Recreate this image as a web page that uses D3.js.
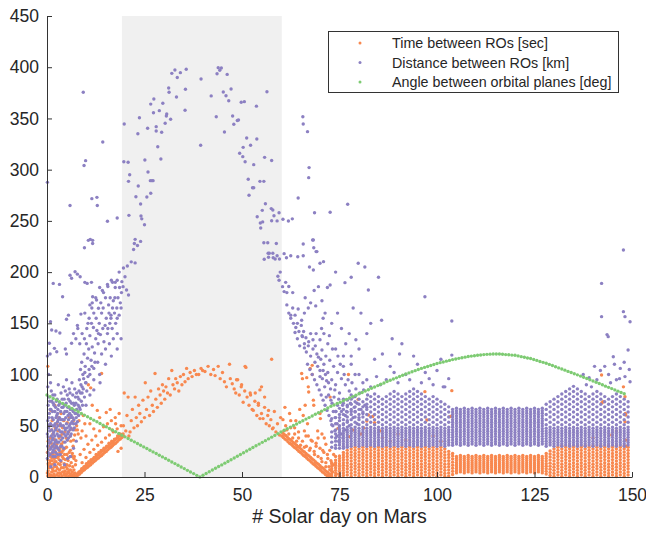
<!DOCTYPE html>
<html lang="en">
<head>
<meta charset="UTF-8">
<title># Solar day on Mars</title>
<script src="https://d3js.org/d3.v7.min.js"></script>
<style>
  body { margin: 0; background: #fff; }
  svg { display: block; font-family: "Liberation Sans", Arial, sans-serif; }
  .axis path, .axis line { stroke: #333; }
  .axis text { fill: #262626; font-size: 17.5px; font-family: "Liberation Sans", Arial, sans-serif; }
</style>
</head>
<body>
<svg id="chart" width="646" height="535"></svg>
<script>
// axes
const xTicks = [0, 25, 50, 75, 100, 125, 150];
const yTicks = [0, 50, 100, 150, 200, 250, 300, 350, 400, 450];
const xLabel = "# Solar day on Mars";
const shadeDays = [19.2, 60.2];

const seriesNames = ["Time between ROs [sec]", "Distance between ROs [km]", "Angle between orbital planes [deg]"];
const seriesColors = ["#f8884f", "#8c80c2", "#7ecb73"];

// angle between orbital planes, one sample every 0.8 day
const greenStep = 0.8;
const greenVals = [80,78.4,76.7,75.1,73.5,71.8,70.2,68.6,66.9,65.3,63.7,62,60.4,58.8,57.1,55.5,53.9,52.2,50.6,49,
  47.3,45.7,44.1,42.4,40.8,39.2,37.6,35.9,34.3,32.7,31,29.4,27.8,26.1,24.5,22.9,21.2,19.6,18,16.3,
  14.7,13.1,11.4,9.8,8.2,6.5,4.9,3.3,1.6,0,1.7,3.4,5.1,6.8,8.5,10.2,11.8,13.5,15.2,16.9,
  18.6,20.3,22,23.7,25.4,27.1,28.8,30.5,32.1,33.8,35.5,37.2,38.9,40.6,42.3,44,45.6,47.1,48.7,50.2,
  51.8,53.4,54.9,56.5,58,59.6,61.2,62.7,64.3,65.8,67.4,69,70.3,71.7,73,74.4,75.8,77.1,78.5,79.8,
  81.2,82.5,83.9,85.2,86.6,87.9,89.2,90.5,91.8,93.1,94.4,95.6,96.8,98.1,99.3,100.5,101.6,102.7,103.8,104.9,
  106,107,107.9,108.9,109.8,110.8,111.6,112.3,113.1,113.8,114.6,115.2,115.8,116.4,117,117.6,118,118.4,118.8,119.1,
  119.5,119.7,119.9,120,120,120,119.8,119.5,119.3,119,118.8,118.2,117.5,116.9,116.2,115.6,114.7,113.8,112.8,111.9,
  111,109.9,108.8,107.6,106.5,105.4,104.3,103.1,102,100.8,99.7,98.5,97.3,96.1,94.9,93.7,92.5,91.2,90,88.7,
  87.5,86.3,85,83.8,82.5,81.3];

// time between ROs: scattered points [day, sec]
const orangePts = [
  [0.2,1],[0.5,3],[0.3,6],[0.8,0.5],[1,2],[1.2,5],[1.5,1],[1.4,8],[1.8,3],[2,0.5],[2.2,6],[2.5,2],[2.4,10],[2.8,4],[3,1],
  [3.2,7],[3.5,3],[3.4,12],[3.8,0.5],[4,5],[4.3,2],[4.2,9],[4.6,6],[4.8,1],[5,3],[5.2,8],[5.5,0.5],[5.6,4],[5.9,2],[6,7],
  [6.3,1],[6.5,5],[6.8,2.5],[7,0.5],[7.2,4],[7.5,1.5],[0.4,11],[0.7,14],[0.2,17],[1.1,12],[1.3,16],[0.9,20],[1.7,13],[1.9,18],
  [2.3,15],[2.6,19],[2.9,13],[3.1,17],[3.6,15],[3.9,20],[4.4,13],[4.7,17],[5.1,12],[5.4,16],[5.8,11],[6.2,14],[6.6,10],
  [0.1,24],[0.6,27],[1.2,23],[1.6,30],[2.1,25],[2.7,28],[3.3,24],[3.7,32],[4.1,26],[4.5,22],[5,29],[5.7,24],[6.4,20],
  [6.9,18],[7.3,12],[0.3,35],[0.9,38],[1.5,42],[2.2,36],[2.8,45],[3.5,40],[4.2,34],[4.9,38],[5.5,44],[6.1,35],[6.7,30],
  [7.1,41],[0.5,50],[1.3,55],[2.5,52],[3,58],[4,48],[5.2,53],[6.3,47],[7.6,50],[0.2,108],[1,65],[2,70],[3.6,62],
  [0.6,9],[1.6,6],[2.7,8],[3.7,9],[4.9,10],[5.3,5],[6.1,3],[6.9,7],[0.1,4],[1.9,10],[3.3,4],[4.5,3.5],[5.8,6.5],
  [0.3,13],[0.8,16],[1.2,19],[1.6,22],[2,15],[2.4,23],[2.9,20],[3.3,28],[3.8,24],[4.2,18],[4.6,28],[5.1,22],[5.5,19],
  [6,26],[6.5,23],[7,20],[7.4,16],[0.5,30],[1.1,33],[1.8,37],[2.5,32],[3.1,38],[3.9,42],[4.6,44],[5.3,36],[6,40],
  [6.8,36],[7.3,46],[8,42],[8.7,38],[1.2,46],[2.1,48],[3.3,50],[4.3,55],[5.7,58],[6.8,55],[8.2,55],[9.7,52],
  // rising wedge
  [7.6,0.5],[8,2],[8.4,3],[8.8,4.5],[9.2,6],[9.6,7],[10,8.5],[10.4,9.5],[10.8,11],[11.2,12],[11.6,13.5],[12,15],[12.4,16],
  [12.8,17.5],[13.2,18.5],[13.6,20],[14,21],[14.4,22.5],[14.8,24],[15.2,25],[15.6,26.5],[16,28],[16.4,29],[16.8,30.5],
  [17.2,32],[17.6,33],[18,34.5],[18.4,36],[18.8,37],[19.2,38.5],[19.6,40],
  [7.8,3],[8.2,4.5],[8.6,6],[9,7.5],[9.4,9],[9.8,10.5],[10.2,12],[10.6,13.5],[11,14.5],[11.4,16],[11.8,17.5],[12.2,18.5],
  [12.6,20],[13,21.5],[13.4,22.5],[13.8,24],[14.2,25.5],[14.6,26.5],[15,28],[15.4,29.5],[15.8,30.5],[16.2,32],[16.6,33.5],
  [17,34.5],[17.4,36],[17.8,37.5],[18.2,38.5],[18.6,40],[19,41.5],
  [8.2,5],[8.9,8],[9.5,10],[10.1,13],[10.7,15],[11.3,17],[12.1,19],[12.6,22],[13.3,24],[13.9,26],[14.6,28],[15.3,30],
  [15.9,33],[16.6,35],[17.3,37],[18.1,40],[18.7,42],[9,14],[10,19],[11,24],[12,27],[13,31],[14,34],[15,38],[16,41],
  [17,44],[18,47],[19,50],[8.5,22],[9.5,27],[10.5,32],[11.5,36],[12.5,40],[13.5,45],[14.5,49],[15.5,52],[16.5,55],
  [17.5,58],[9,45],[10,40],[11,52],[12,47],[12.9,65],[11.6,70],[10.6,90],[14,101],[7.8,46],[16.7,46],[17.6,52],
  [11.2,87],[9.3,60],[13.5,58],[15.2,63],[16.2,66],[18.5,62],[19,28],[18.2,25],
  // arc under the shade
  [19.5,42],[19.6,50],[19.8,82],[20.2,45],[20.5,60],[20.8,78],[21,40],[21.3,44],[21.6,55],[21.9,66],[22.3,48],[22.6,78],
  [22.9,58],[23.2,50],[23.5,70],[23.8,62],[24.2,54],[24.6,75],[25,58],[25.2,92],[25.5,66],[25.9,78],[26.3,60],[26.6,84],
  [27,70],[27.3,64],[27.7,101],[27.9,76],[28.3,68],[28.6,86],[29,80],[29.3,72],[29.6,90],[29.9,84],[30.2,76],[30.5,88],
  [30.9,82],[31.2,96],[31.6,80],[32,104],[32.3,90],[32.7,86],[33,96],[33.4,92],[33.8,84],[34.2,98],[34.6,90],[35,100],
  [35.4,93],[35.8,106],[36.2,96],[36.7,102],[37.2,98],[37.8,104],[38.3,100],[38.9,100],[39.5,106],[39.9,104],
  [40.5,103],[41.3,108],[42,100],[42.7,105],[43.1,99],[43.9,108],[44.4,96],[45,102],[45.5,93],[46,88],[46.8,110],[47,96],
  [47.5,91],[48,86],[48.4,82],[48.9,95],[49.3,80],[49.8,88],[50.3,73],[50.7,84],[51,107],[51.3,78],[51.8,70],[52.2,80],
  [52.6,66],[52.9,65],[53.3,74],[53.8,60],[54.2,70],[54.6,57],[55,62],[55.4,57],[55.8,68],[56.2,52],[56.6,60],[57,50],
  [57.4,56],[57.6,115],[57.8,47],[58,48],[58.3,64],[58.7,44],[59.1,52],[59.6,41],[59.9,58],[48.6,95],[49.9,90],[50.8,108],
  [52.1,82],[53.4,82],[54.2,72],[55,88],[54.6,85],[56.8,65],[55.8,78],
  // falling wedge after the shade
  [60.2,40],[60.6,38.5],[61,37],[61.4,36],[61.8,34.5],[62.2,33],[62.6,32],[63,30.5],[63.4,29],[63.8,28],[64.2,26.5],
  [64.6,25],[65,24],[65.4,22.5],[65.8,21],[66.2,20],[66.6,18.5],[67,17],[67.4,16],[67.8,14.5],[68.2,13],[68.6,12],
  [69,10.5],[69.4,9],[69.8,8],[70.2,6.5],[70.6,5],[71,4],[71.4,2.5],[71.8,1.5],[72.2,0.5],
  [60.4,43],[60.8,41.5],[61.2,40.5],[61.6,39],[62,37.5],[62.4,36.5],[62.8,35],[63.2,33.5],[63.6,32.5],[64,31],
  [64.4,29.5],[64.8,28.5],[65.2,27],[65.6,25.5],[66,24.5],[66.4,23],[66.8,21.5],[67.2,20.5],[67.6,19],[68,17.5],
  [68.4,16.5],[68.8,15],[69.2,13.5],[69.6,12.5],[70,11],[70.4,9.5],[70.8,8.5],[71.2,7],[71.6,5.5],[72,4.5],[72.4,3],
  [72.8,1.5],[65.5,35],[66.5,30],[67.5,28],[68.5,25],[69.5,20],[70.5,15],[71.5,10],[72.5,7],[66,45],[67,40],[68,35],
  [69,33],[70,28],[71,24],[72,18],[73,14],[69.5,38],[70.5,42],[71.5,32],[72.5,26],[73.5,22],[62.5,48],[63.5,42],[64.5,38],
  [60.8,45],[61.2,50],[61.5,46],[62,42],[62.5,55],[63,38],[63.5,48],[64,35],[64.5,44],[65,31],[65.3,101],[65.7,60],
  [66,29],[66.4,40],[66.8,52],[67,88],[67.1,83],[67.3,26],[67.7,36],[68,109],[68.3,75],[68.4,70],[68.6,22],[69,30],
  [69.4,45],[70,62],[70.1,57],[70.3,18],[70.7,26],[71.1,38],[71.5,14],[71.9,22],[72.3,10],[72.6,78],[72.8,16],[73.2,5],
  [73.6,12],[74,20],[74.6,47.5],[74.2,3],[63.8,55],[64.8,66],[66.2,70],[62.2,62],[61,68],[60.5,56],[66.6,97],[68,100],
  [67.5,106],[65.5,96],
  // strays above the dense band
  [77.3,100],[79.8,75.8],[82.4,60.5],[83.5,59],[84,53],[82,54.7],[78.4,45.9],[77.6,39.4],[80.5,42],[81.2,48],[85.4,45],
  [86,38],[88,35],[90,42],[92,36],[96.9,83.3],[97.4,55.6],[103.8,84.3],[103.8,59.5],[103.3,58.9],[99,40],[101,35],
  [142.2,99.6],[147.8,88],[142.3,72.5],[148.2,54],[148.4,60.5],[144.8,41],[148.5,30],[148.6,36],[142.6,73.5],
  [148.2,78.4],[148.3,62],[146,45],[140,38]
];

// time between ROs: dense band, one column per day
const orangeCols = [
  [73, "0.5 3 5.5 8 10.5 13"],
  [74, "1.5 4 6.5 9 11.5 14 16.5"],
  [75, "0.5 3 5.5 8 10.5 13 15.5 18 20.5"],
  [76, "1.5 4 6.5 9 11.5 14 16.5 19 21.5 24"],
  [77, "2 5 8 11 14 17 20 23 26"],
  [78, "0.5 3.5 6.5 9.5 12.5 15.5 18.5 21.5 24.5 27.5"],
  [79, "2 5 8 11 14 17 20 23 26 29"],
  [80, "0.5 3.5 6.5 9.5 12.5 15.5 18.5 21.5 24.5 27.5"],
  [81, "2 5 8 11 14 17 20 23 26 29"],
  [82, "0.5 3.5 6.5 9.5 12.5 15.5 18.5 21.5 24.5 27.5"],
  [83, "2 5 8 11 14 17 20 23 26 29"],
  [84, "0.5 3.5 6.5 9.5 12.5 15.5 18.5 21.5 24.5 27.5"],
  [85, "2 5 8 11 14 17 20 23 26 29"],
  [86, "0.5 3.5 6.5 9.5 12.5 15.5 18.5 21.5 24.5 27.5"],
  [87, "2 5 8 11 14 17 20 23 26 29"],
  [88, "0.5 3.5 6.5 9.5 12.5 15.5 18.5 21.5 24.5 27.5"],
  [89, "2 5 8 11 14 17 20 23 26 29"],
  [90, "0.5 3.5 6.5 9.5 12.5 15.5 18.5 21.5 24.5 27.5"],
  [91, "2 5 8 11 14 17 20 23 26 29"],
  [92, "0.5 3.5 6.5 9.5 12.5 15.5 18.5 21.5 24.5 27.5"],
  [93, "2 5 8 11 14 17 20 23 26 29"],
  [94, "0.5 3.5 6.5 9.5 12.5 15.5 18.5 21.5 24.5 27.5"],
  [95, "2 5 8 11 14 17 20 23 26 29"],
  [96, "0.5 3.5 6.5 9.5 12.5 15.5 18.5 21.5 24.5 27.5"],
  [97, "2 5 8 11 14 17 20 23 26 29"],
  [98, "0.5 3.5 6.5 9.5 12.5 15.5 18.5 21.5 24.5 27.5"],
  [99, "2 5 8 11 14 17 20 23 26 29"],
  [100, "0.5 3.5 6.5 9.5 12.5 15.5 18.5 21.5 24.5 27.5"],
  [101, "2 5 8 11 14 17 20 23 26 29"],
  [102, "0.5 3.5 6.5 9.5 12.5 15.5 18.5 21.5 24.5 27.5"],
  [103, "1 4 7 10 13 16 19 22 25"],
  [104, "2.5 5.5 8.5 11.5 14.5 17.5 20.5 23"],
  [105, "4 6 8 10 12 14 16 18 20"], [106, "5 7 9 11 13 15 17 19 21"],
  [107, "4 6 8 10 12 14 16 18 20"], [108, "5 7 9 11 13 15 17 19 21"],
  [109, "4 6 8 10 12 14 16 18 20"], [110, "5 7 9 11 13 15 17 19 21"],
  [111, "4 6 8 10 12 14 16 18 20"], [112, "5 7 9 11 13 15 17 19 21"],
  [113, "4 6 8 10 12 14 16 18 20"], [114, "5 7 9 11 13 15 17 19 21"],
  [115, "4 6 8 10 12 14 16 18 20"], [116, "5 7 9 11 13 15 17 19 21"],
  [117, "4 6 8 10 12 14 16 18 20"], [118, "5 7 9 11 13 15 17 19 21"],
  [119, "4 6 8 10 12 14 16 18 20"], [120, "5 7 9 11 13 15 17 19 21"],
  [121, "4 6 8 10 12 14 16 18 20"], [122, "5 7 9 11 13 15 17 19 21"],
  [123, "4 6 8 10 12 14 16 18 20"], [124, "5 7 9 11 13 15 17 19 21"],
  [125, "4 6 8 10 12 14 16 18 20"], [126, "5 7 9 11 13 15 17 19 21"],
  [127, "4 6 8 10 12 14 16 18 20"],
  [128, "3 5.5 8 10.5 13 15.5 18 20.5 23"],
  [129, "1.5 4.5 7.5 10.5 13.5 16.5 19.5 22.5 25.5"],
  [130, "0.5 3.5 6.5 9.5 12.5 15.5 18.5 21.5 24.5 27.5"],
  [131, "2 5 8 11 14 17 20 23 26 29"],
  [132, "0.5 3.5 6.5 9.5 12.5 15.5 18.5 21.5 24.5 27.5 30.5"],
  [133, "2 5 8 11 14 17 20 23 26 29"],
  [134, "0.5 3.5 6.5 9.5 12.5 15.5 18.5 21.5 24.5 27.5 30.5"],
  [135, "2 5 8 11 14 17 20 23 26 29"],
  [136, "0.5 3.5 6.5 9.5 12.5 15.5 18.5 21.5 24.5 27.5 30.5"],
  [137, "2 5 8 11 14 17 20 23 26 29"],
  [138, "0.5 3.5 6.5 9.5 12.5 15.5 18.5 21.5 24.5 27.5 30.5"],
  [139, "2 5 8 11 14 17 20 23 26 29"],
  [140, "0.5 3.5 6.5 9.5 12.5 15.5 18.5 21.5 24.5 27.5 30.5"],
  [141, "2 5 8 11 14 17 20 23 26 29"],
  [142, "0.5 3.5 6.5 9.5 12.5 15.5 18.5 21.5 24.5 27.5 30.5"],
  [143, "2 5 8 11 14 17 20 23 26 29"],
  [144, "0.5 3.5 6.5 9.5 12.5 15.5 18.5 21.5 24.5 27.5 30.5"],
  [145, "2 5 8 11 14 17 20 23 26 29"],
  [146, "0.5 3.5 6.5 9.5 12.5 15.5 18.5 21.5 24.5 27.5 30.5"],
  [147, "2 5 8 11 14 17 20 23 26 29"],
  [148, "0.5 3.5 6.5 9.5 12.5 15.5 18.5 21.5 24.5 27.5 30.5"],
  [149, "2 5 8 11 14 17 20 23 26 29"]
];

// distance between ROs: scattered points [day, km]
const purplePts = [
  [0.1,18],[0.3,24],[0.2,30],[0.5,36],[0.1,42],[0.4,48],[0.2,55],[0.6,62],[0.3,70],[0.5,78],[0.2,88],[0.4,100],[0.1,118],
  [0.8,22],[1,28],[0.9,34],[1.1,40],[1.2,46],[0.9,52],[1.3,58],[1,66],[1.2,74],[1.1,84],[1.5,20],[1.6,26],[1.8,32],
  [1.5,38],[1.7,44],[1.9,50],[1.6,56],[2,64],[1.8,70],[2,80],[2.2,24],[2.4,30],[2.3,36],[2.6,42],[2.4,48],[2.7,54],
  [2.5,60],[2.8,66],[2.6,76],[2.9,90],[3.1,26],[3,34],[3.3,40],[3.1,46],[3.4,52],[3.2,58],[3.5,64],[3.3,72],[3.6,82],
  [3.8,30],[4,38],[3.9,44],[4.2,50],[4,56],[4.3,62],[4.1,68],[4.4,76],[4.2,88],[4.6,34],[4.8,40],[4.7,46],[5,52],
  [4.8,58],[5.1,64],[4.9,72],[5.2,80],[5,95],[5.5,38],[5.4,44],[5.7,50],[5.5,56],[5.8,62],[5.6,68],[5.9,74],[5.7,86],
  [6.2,42],[6.1,48],[6.4,54],[6.2,60],[6.5,66],[6.3,72],[6.6,80],[6.4,92],[7,48],[6.9,56],[7.2,62],[7,70],[7.3,78],
  [7.1,86],[7.8,54],[7.7,62],[8,70],[7.9,78],[8.2,84],[8.5,66],[8.8,74],[9,82],[8.7,90],[9.3,86],[9.6,78],[9.9,92],
  [10.2,84],[10.5,98],[4.5,12],[5.3,18],[6,20],[6.8,28],[7.5,35],[2,12],[3.5,16],[1,10],
  [0.4,21],[0.7,27],[0.6,33],[0.3,39],[0.7,45],[0.6,51],[0.5,58],[0.8,66],[0.7,74],[0.9,92],[1.4,24],[1.3,30],[1.4,36],
  [1.6,42],[1.5,50],[1.4,64],[1.6,72],[1.5,80],[2.1,20],[2,28],[2.1,34],[2,40],[2.2,46],[2.1,52],[2.3,58],[2.2,68],
  [2.4,74],[2.7,22],[2.8,28],[2.7,34],[2.9,40],[2.8,50],[2.9,56],[2.7,62],[3,70],[3.4,22],[3.5,30],[3.6,36],[3.5,44],
  [3.7,50],[3.6,56],[3.8,68],[3.9,76],[4.3,28],[4.4,42],[4.5,48],[4.4,56],[4.6,64],[4.5,70],[4.7,84],[5.2,36],[5.3,42],
  [5.2,48],[5.4,60],[5.3,68],[5.5,76],[6,40],[5.9,46],[6,52],[6.1,58],[6,66],[5.9,82],[6.7,46],[6.8,52],[6.6,58],
  [6.7,64],[6.8,72],[7.4,52],[7.5,58],[7.6,66],[7.4,72],[7.6,82],[8.1,60],[8.3,68],[8.2,76],[8.6,82],[9.1,70],[9.4,96],
  [9.7,102],[10.8,105],[11.5,108],[12.3,112],
  // rising cloud before the shade
  [8.3,95],[8.6,105],[8.9,112],[9.2,100],[9.5,120],[9.8,108],[10.1,130],[10.4,116],[10.7,125],[11,138],[11.3,114],
  [11.6,127],[11.9,146],[12.2,121],[12.5,135],[12.8,143],[13.1,130],[13.4,150],[13.7,139],[14,160],[14.3,145],[14.6,132],
  [14.9,148],[15.2,155],[15.5,140],[15.8,168],[16.1,150],[16.4,158],[16.7,145],[17,172],[17.3,160],[17.6,150],[17.9,165],
  [18.2,175],[18.5,158],[18.8,170],[19.1,180],[9,88],[10,92],[11,100],[12,106],[13,112],[14,120],[15,125],[16,130],
  [17,135],[18,140],[10.5,150],[11.5,165],[12.5,175],[13.5,185],[14.5,180],[15.5,188],[16.5,192],[17.5,190],[9.7,160],
  [8.7,159],[7.8,148],[7.9,145],[6.8,140],[6.3,130.5],[7.4,135],[5,154],[5.5,158],[4,176],[3.2,188],[1.6,189],
  [0.9,151.6],[2.3,142.5],[3.3,140.6],[1.2,143.5],[0.6,130.5],[0.8,120],[1.9,125.6],[2.5,122.3],[4.7,125],[5,120],
  [5.9,197],[6.3,194],[7.2,200.4],[8.5,195.5],[7.8,198],[9.7,190],[10.3,189],[11.4,190],[11,168],[11.6,170],[11.7,176],
  [12.7,172.8],[13.2,164.7],[14.2,182],[15.6,186],[16.8,190],[17.5,185],[15.9,160],[16.4,155],[19.5,185.8],[20.4,182.5],
  [20.9,177.7],[19.6,204],[20.6,206],[21.6,210],[22.6,209],[19.2,190.7],[20,195.5],[18,192],[18.5,200],
  [8.4,130],[9,140],[9.6,135],[10.2,145],[10.8,155],[11.4,150],[12,160],[12.6,155],[13.2,140],[13.8,170],[14.4,165],
  [15,175],[15.6,145],[16.2,175],[16.8,165],[17.4,175],[18,155],[18.6,185],[19,165],[12,95],[13.5,100],[15,110],
  [16.5,118],[18,125],[19,135],[10,70],[11,80],[12,85],[13.6,92],
  [9.3,375.5],[14.3,327],[9.9,308.8],[9.5,304],[0.1,287.6],[5.9,265],[11.5,271.7],[12.8,273],[12.9,265],[15.5,249.6],
  [18,252.8],[9.6,223.8],[10.6,231],[11.1,232],[11.7,231],[11.7,228],
  // arc under the shade
  [19.8,344.6],[19.7,307.8],[20.8,307.2],[23.7,350.7],[23.3,335],[21.2,295],[20.9,288.6],[21,255.4],[23.4,284],
  [22.8,273.6],[24,266.5],[24.1,254.8],[24.3,252],[25,246.3],[22.6,232],[23.2,226],[22.4,228],[22.2,222],[24,230],
  [25.1,309.4],[25.8,340.4],[25.9,297.7],[26.5,289.3],[26.9,289.3],[27.2,289.3],[25.6,273.3],[26.6,277],[26.6,364],
  [27.4,369],[27.3,355.6],[28,342],[28,337.8],[28.4,322.4],[29.2,310.4],[29.4,336.5],[28.8,357.6],[29.7,364.8],
  [30.3,345.3],[30.7,354.4],[30.6,352.4],[31.2,379.7],[31.3,375.5],[31.7,349.2],[32,394],[32.8,397.3],[33.4,390],
  [34.2,394.7],[35.7,398],[33.2,371],[35.5,378.5],[35.4,358],[39.5,388.5],[39.4,323.8],[42.1,372],[43.4,351.7],
  [43.6,393.7],[43.9,399.6],[44.3,397],[44.7,399.3],[45.2,375.8],[45.9,372.2],[46.6,367.3],[46.2,393],[47.2,378.8],
  [45.5,336.8],[47.6,352.4],[47.9,344.3],[48.8,348],[49.1,348.5],[49.8,365.8],[50.6,366.4],[53.7,362],[56.4,376.1],
  [49.4,316],[50.2,312.7],[50.8,307.8],[50.3,321.8],[51.2,330.9],[52.2,323.8],[53.8,330],[53,304.9],[51.6,290.6],
  [52.7,282.4],[53,282.4],[51.8,275],[54.6,288.6],[55.6,288.6],[55.8,312],[57.6,309],[56,266.8],[55.2,260.3],
  [57.9,260.6],[53.9,254],[54.7,248],[55.3,249],[54.8,243],[55.6,228.7],[56.7,218.4],[57,218.4],[56.8,214.5],
  [55.7,212.5],[57.6,250.2],
  // cascade after the shade
  [57.5,262],[58.2,255],[59,250],[59.5,258],[60.5,251.6],[61.9,249.9],[62.9,252],[60.8,218],[62.5,216],[64.3,215],
  [65.7,216],[58.5,212.8],[59.6,212.8],[61.4,214],[65.6,351.7],[65.7,344.6],[66.8,337.1],[67.2,302],[67.1,292.2],
  [64.4,272.4],[68.6,258],[72.6,258.4],[68.3,231.4],[65.7,227.4],[69.2,220],[68.4,223.8],[77.1,266.2],[56.6,228.7],
  [57.9,218.4],[58.8,228],[68.1,231.4],[69,220],
  [58,214],[59,216],[59.2,196],[59.5,192],[59.8,200],[60.4,185.8],[60.8,181],[61.2,190],[62,186],[63,180],[61.5,168],
  [62,160],[62.5,155],[63,165],[63.6,158],[64.2,150],[64.4,164],[65.3,153],[66,160],[67,165],[67.6,170],[68.9,167],
  [70.5,172],[71.3,160],[70.8,155],[61.5,180],[66.2,175],[68.5,182],[71.9,185],[69.6,185.8],[72.6,187.4],[76.4,189.7],
  [82.4,182.5],[68.3,202],[70,208.6],[70.9,210.2],[79.8,208.6],[67.3,205],[74,200],[78,195],[81.5,205],[85,195],
  [63.6,141],[64.2,135],[64.8,128],[65.4,138],[66,130],[66.5,122],[67.1,132],[67.6,118],[68.2,125],[68.7,112],
  [69.2,120],[69.6,117],[65.5,137],[66,126],[66.8,110],[67.4,105],[68,100],[68.6,95],[69.2,90],[69.8,85],[70.3,80],
  [70.8,75],[71.3,70],[71.8,65],[72.3,60],[72.8,55],[73.3,50],[73.8,45],[74.3,40],[74.8,35],[70,104],[70.6,96],
  [71.2,88],[71.7,94],[72.2,80],[72.7,86],[73.1,72],[73.6,78],[74.1,64],[74.5,70],[75,58],[75.5,64],[76,52],[76.4,46],
  [71,110],[72,102],[73,95],[74,90],[75,82],[76,76],[77,70],[78,64],[70.5,124],[71.5,118],[72.5,114],[73.5,108],
  [74.5,102],[75.5,96],[76.5,90],[77.5,84],[78.5,78],[79.5,72],[69,140],[70,134],[72,130],[74,125],[76,118],[78,110],
  [80,100],[82,95],[62.5,158],[63.2,150],[63.8,146],[64.6,142],[65.2,148],[65.8,142],[66.4,136],[67,128],[67.6,140],
  [68.2,134],[68.8,128],[69.4,108],[70,98],[70.2,115],[70.8,104],[71.4,100],[71.6,78],[72.2,92],[72.8,75],[73.4,64],
  [73.9,58],[74.4,52],[74.9,48],[75.4,42],[75.9,38],[76.5,60],[77,55],[77.5,50],[78,45],[78.5,58],[79,64],[79.5,52],
  [80,58],[80.5,66],[81,62],[81.5,70],[82,68],[70.4,145],[71,140],[72.4,138],[73.2,125],[74.6,118],[75.2,110],
  [76.2,100],[77.2,95],[78.2,92],[79.2,86],[80.2,82],[81.2,85],[82.2,80],[73.8,85],[74.8,76],[75.8,70],[76.8,64],
  [77.8,72],[78.8,68],
  // strays above the dense band
  [76.6,130],[79.2,134],[86,120],[90.4,120],[85.8,153],[96.9,176],[103.8,152.3],[73,150],[75.5,145],[77.5,140],
  [80,125],[82,140],[84,115],[88,108],[92,100],[95,110],[98,96],[100,104],[83,150],[88.5,135],[80.5,160],[78.5,165],
  [74.5,160],[84.5,98],[87,95],[90,92],[93,95],[96,92],[99,90],[102,88],[79,100],[81,92],[83,88],[85.5,90],[78,118],
  [76,108],[91,130],[94,118],[89,102],[103,96],[101,115],[97,102],[103.8,119],[101.6,88],
  [147.8,221.6],[142.2,189],[142.2,156.5],[143.9,137],[143.6,139],[145.2,117.4],[147.8,161.4],[148.2,156.5],
  [149.5,151.6],[149,124],[147,106],[148.2,98],[149.5,93],[141,95],[144,100],[146,95],[139,97],[137.5,100],
  [145.5,110],[148,112],[149.3,105],[143,108],[140.4,108],[141.9,104],[144.5,92],[146.8,96],[138.3,90],[139.6,88]
];

// distance between ROs: dense band, one column per day
const purpleCols = [
  [73, "29 34 39 44 51 57"],
  [74, "28 31 35 38 42 46 52 58 64"],
  [75, "28 31.2 33.7 36.2 38.7 41.2 43.7 46.2 50 55 61 67"],
  [76, "28 30 32.5 35 37.5 40 42.5 45 47.5 51 56 61 66 72"],
  [77, "29 31.2 33.7 36.2 38.7 41.2 43.7 46.2 48.7 53.5 58.5 63.5 68.5 75"],
  [78, "30 32.5 35 37.5 40 42.5 45 47.5 51 56 61 66 71 76 80"],
  [79, "31.2 33.7 36.2 38.7 41.2 43.7 46.2 48.7 53.5 58.5 63.5 68.5 73.5 78.5"],
  [80, "30 32.5 35 37.5 40 42.5 45 47.5 51 56 61 66 71 76"],
  [81, "31.2 33.7 36.2 38.7 41.2 43.7 46.2 48.7 53.5 58.5 63.5 68.5 73.5"],
  [82, "30 32.5 35 37.5 40 42.5 45 47.5 51 56 61 66 71 76"],
  [83, "31.2 33.7 36.2 38.7 41.2 43.7 46.2 48.7 53.5 58.5 63.5 68.5 73.5 78.5"],
  [84, "30 32.5 35 37.5 40 42.5 45 47.5 51 56 61 66 71 76 81"],
  [85, "31.2 33.7 36.2 38.7 41.2 43.7 46.2 48.7 53.5 58.5 63.5 68.5 73.5 78.5"],
  [86, "30 32.5 35 37.5 40 42.5 45 47.5 51 56 61 66 71 76"],
  [87, "31.2 33.7 36.2 38.7 41.2 43.7 46.2 48.7 53.5 58.5 63.5 68.5 73.5 78.5"],
  [88, "30 32.5 35 37.5 40 42.5 45 47.5 51 56 61 66 71 76 81"],
  [89, "31.2 33.7 36.2 38.7 41.2 43.7 46.2 48.7 53.5 58.5 63.5 68.5 73.5 78.5 83.5"],
  [90, "30 32.5 35 37.5 40 42.5 45 47.5 51 56 61 66 71 76 81"],
  [91, "31.2 33.7 36.2 38.7 41.2 43.7 46.2 48.7 53.5 58.5 63.5 68.5 73.5 78.5"],
  [92, "30 32.5 35 37.5 40 42.5 45 47.5 51 56 61 66 71 76 81"],
  [93, "31.2 33.7 36.2 38.7 41.2 43.7 46.2 48.7 53.5 58.5 63.5 68.5 73.5 78.5 83.5"],
  [94, "30 32.5 35 37.5 40 42.5 45 47.5 51 56 61 66 71 76 81 86"],
  [95, "31.2 33.7 36.2 38.7 41.2 43.7 46.2 48.7 53.5 58.5 63.5 68.5 73.5 78.5 83.5"],
  [96, "30 32.5 35 37.5 40 42.5 45 47.5 51 56 61 66 71 76 81"],
  [97, "31.2 33.7 36.2 38.7 41.2 43.7 46.2 48.7 53.5 58.5 63.5 68.5 73.5 78.5"],
  [98, "30 32.5 35 37.5 40 42.5 45 47.5 51 56 61 66 71 76"],
  [99, "31.2 33.7 36.2 38.7 41.2 43.7 46.2 48.7 53.5 58.5 63.5 68.5 73.5 78.5"],
  [100, "30 32.5 35 37.5 40 42.5 45 47.5 51 56 61 66 71 76"],
  [101, "31.2 33.7 36.2 38.7 41.2 43.7 46.2 48.7 53.5 58.5 63.5 68.5 73.5"],
  [102, "30 32.5 35 37.5 40 42.5 45 47.5 51 56 61 66 71"],
  [103, "31.2 33.7 36.2 38.7 41.2 43.7 46.2 48.7 53.5 58.5 63.5 68.5"],
  [104, "31 33.5 36 38.5 41 43.5 46 48.5 51 53.5 56 58.5 61 63.5 66"],
  [105, "32.2 34.7 37.2 39.7 42.2 44.7 47.2 49.7 52.2 54.7 57.2 59.7 62.2 64.7 67.2"],
  [106, "31 33.5 36 38.5 41 43.5 46 48.5 51 53.5 56 58.5 61 63.5 66"],
  [107, "32.2 34.7 37.2 39.7 42.2 44.7 47.2 49.7 52.2 54.7 57.2 59.7 62.2 64.7 67.2"],
  [108, "31 33.5 36 38.5 41 43.5 46 48.5 51 53.5 56 58.5 61 63.5 66"],
  [109, "32.2 34.7 37.2 39.7 42.2 44.7 47.2 49.7 52.2 54.7 57.2 59.7 62.2 64.7 67.2"],
  [110, "31 33.5 36 38.5 41 43.5 46 48.5 51 53.5 56 58.5 61 63.5 66"],
  [111, "32.2 34.7 37.2 39.7 42.2 44.7 47.2 49.7 52.2 54.7 57.2 59.7 62.2 64.7 67.2"],
  [112, "31 33.5 36 38.5 41 43.5 46 48.5 51 53.5 56 58.5 61 63.5 66"],
  [113, "32.2 34.7 37.2 39.7 42.2 44.7 47.2 49.7 52.2 54.7 57.2 59.7 62.2 64.7 67.2"],
  [114, "31 33.5 36 38.5 41 43.5 46 48.5 51 53.5 56 58.5 61 63.5 66"],
  [115, "32.2 34.7 37.2 39.7 42.2 44.7 47.2 49.7 52.2 54.7 57.2 59.7 62.2 64.7 67.2"],
  [116, "31 33.5 36 38.5 41 43.5 46 48.5 51 53.5 56 58.5 61 63.5 66"],
  [117, "32.2 34.7 37.2 39.7 42.2 44.7 47.2 49.7 52.2 54.7 57.2 59.7 62.2 64.7 67.2"],
  [118, "31 33.5 36 38.5 41 43.5 46 48.5 51 53.5 56 58.5 61 63.5 66"],
  [119, "32.2 34.7 37.2 39.7 42.2 44.7 47.2 49.7 52.2 54.7 57.2 59.7 62.2 64.7 67.2"],
  [120, "31 33.5 36 38.5 41 43.5 46 48.5 51 53.5 56 58.5 61 63.5 66"],
  [121, "32.2 34.7 37.2 39.7 42.2 44.7 47.2 49.7 52.2 54.7 57.2 59.7 62.2 64.7 67.2"],
  [122, "31 33.5 36 38.5 41 43.5 46 48.5 51 53.5 56 58.5 61 63.5 66"],
  [123, "32.2 34.7 37.2 39.7 42.2 44.7 47.2 49.7 52.2 54.7 57.2 59.7 62.2 64.7 67.2"],
  [124, "31 33.5 36 38.5 41 43.5 46 48.5 51 53.5 56 58.5 61 63.5 66"],
  [125, "32.2 34.7 37.2 39.7 42.2 44.7 47.2 49.7 52.2 54.7 57.2 59.7 62.2 64.7 67.2"],
  [126, "31 33.5 36 38.5 41 43.5 46 48.5 51 53.5 56 58.5 61 63.5 66"],
  [127, "32.2 34.7 37.2 39.7 42.2 44.7 47.2 49.7 52.2 54.7 57.2 59.7 62.2 64.7 67.2"],
  [128, "30 32.5 35 37.5 40 42.5 45 47.5 51 56 61 66 71"],
  [129, "31.2 33.7 36.2 38.7 41.2 43.7 46.2 48.7 53.5 58.5 63.5 68.5 73.5"],
  [130, "30 32.5 35 37.5 40 42.5 45 47.5 51 56 61 66 71 76"],
  [131, "31.2 33.7 36.2 38.7 41.2 43.7 46.2 48.7 53.5 58.5 63.5 68.5 73.5 78.5"],
  [132, "30 32.5 35 37.5 40 42.5 45 47.5 51 56 61 66 71 76 81"],
  [133, "31.2 33.7 36.2 38.7 41.2 43.7 46.2 48.7 53.5 58.5 63.5 68.5 73.5 78.5 83.5"],
  [134, "30 32.5 35 37.5 40 42.5 45 47.5 51 56 61 66 71 76 81 86"],
  [135, "31.2 33.7 36.2 38.7 41.2 43.7 46.2 48.7 53.5 58.5 63.5 68.5 73.5 78.5 83.5 88.5"],
  [136, "30 32.5 35 37.5 40 42.5 45 47.5 51 56 61 66 71 76 81 86"],
  [137, "31.2 33.7 36.2 38.7 41.2 43.7 46.2 48.7 53.5 58.5 63.5 68.5 73.5 78.5 83.5"],
  [138, "30 32.5 35 37.5 40 42.5 45 47.5 51 56 61 66 71 76 81"],
  [139, "31.2 33.7 36.2 38.7 41.2 43.7 46.2 48.7 53.5 58.5 63.5 68.5 73.5 78.5"],
  [140, "30 32.5 35 37.5 40 42.5 45 47.5 51 56 61 66 71 76 81"],
  [141, "31.2 33.7 36.2 38.7 41.2 43.7 46.2 48.7 53.5 58.5 63.5 68.5 73.5 78.5 83.5"],
  [142, "30 32.5 35 37.5 40 42.5 45 47.5 51 56 61 66 71 76 81"],
  [143, "31.2 33.7 36.2 38.7 41.2 43.7 46.2 48.7 53.5 58.5 63.5 68.5 73.5 78.5"],
  [144, "30 32.5 35 37.5 40 42.5 45 47.5 51 56 61 66 71 76"],
  [145, "31.2 33.7 36.2 38.7 41.2 43.7 46.2 48.7 53.5 58.5 63.5 68.5 73.5 78.5"],
  [146, "30 32.5 35 37.5 40 42.5 45 47.5 51 56 61 66 71 76 81"],
  [147, "31.2 33.7 36.2 38.7 41.2 43.7 46.2 48.7 53.5 58.5 63.5 68.5 73.5 78.5"],
  [148, "30 32.5 35 37.5 40 42.5 45 47.5 51 56 61 66 71 76"],
  [149, "31.2 33.7 36.2 38.7 41.2 43.7 46.2 48.7 53.5 58.5 63.5 68.5 73.5"]
];

const width = 646, height = 535;
const svg = d3.select("#chart");

const x = d3.scaleLinear().domain([0, 150]).range([47, 632]);
const y = d3.scaleLinear().domain([0, 450]).range([477, 16]);

function expand(cols) {
  return cols.flatMap(([d, s]) => s.split(" ").map(v => [d, +v]));
}

const orange = orangePts.concat(expand(orangeCols));
const purple = purplePts.concat(expand(purpleCols));
const green = greenVals.map((v, i) => [i * greenStep, v]);

// shaded interval
svg.append("rect")
  .attr("x", x(shadeDays[0]))
  .attr("y", y(450))
  .attr("width", x(shadeDays[1]) - x(shadeDays[0]))
  .attr("height", y(0) - y(450))
  .attr("fill", "#f0f0f0");

const r = 1.7;
[orange, purple, green].forEach((pts, k) => {
  svg.append("g")
    .selectAll("circle")
    .data(pts)
    .join("circle")
    .attr("cx", d => x(d[0]))
    .attr("cy", d => y(d[1]))
    .attr("r", r)
    .attr("fill", seriesColors[k]);
});

svg.append("g")
  .attr("class", "axis")
  .attr("transform", "translate(0,477)")
  .call(d3.axisBottom(x).tickValues(xTicks).tickSizeInner(-5).tickSizeOuter(0).tickPadding(12));

svg.append("g")
  .attr("class", "axis")
  .attr("transform", "translate(47,0)")
  .call(d3.axisLeft(y).tickValues(yTicks).tickSizeInner(-5).tickSizeOuter(0).tickPadding(8));

svg.append("text")
  .attr("x", (x(0) + x(150)) / 2)
  .attr("y", 523)
  .attr("text-anchor", "middle")
  .attr("font-size", "19.5px")
  .attr("fill", "#262626")
  .text(xLabel);

// legend
const legend = svg.append("g");
legend.append("rect")
  .attr("x", 328.5).attr("y", 31.5)
  .attr("width", 290).attr("height", 61)
  .attr("fill", "#fff")
  .attr("stroke", "#333");

seriesNames.forEach((name, i) => {
  const ly = 43 + i * 19.5;
  legend.append("circle")
    .attr("cx", 360).attr("cy", ly)
    .attr("r", 1.5)
    .attr("fill", seriesColors[i]);
  legend.append("text")
    .attr("x", 392).attr("y", ly)
    .attr("dy", "0.35em")
    .attr("font-size", "14.3px")
    .attr("fill", "#262626")
    .text(name);
});
</script>
</body>
</html>
